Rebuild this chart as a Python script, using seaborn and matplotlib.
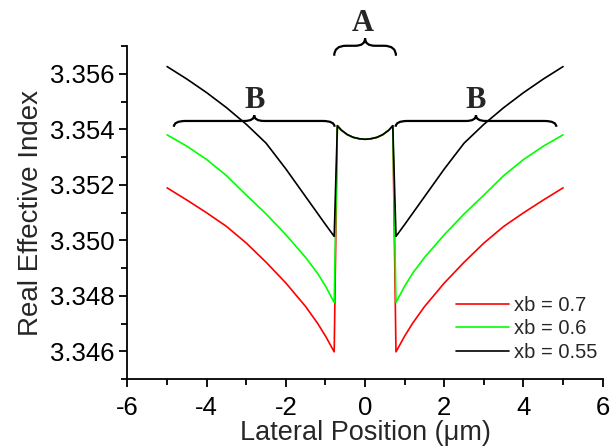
import numpy as np
import pandas as pd
import matplotlib
matplotlib.use("Agg")
import matplotlib.pyplot as plt
from matplotlib.path import Path
from matplotlib.patches import PathPatch
from matplotlib.ticker import MultipleLocator, FormatStrFormatter
import seaborn as sns

# left half of the profile (the curve is symmetric about x = 0)
x_half = [-5.0, -4.5, -4.0, -3.5, -3.0, -2.5, -2.0, -1.5, -1.2, -1.0, -0.78,
          -0.70, -0.60, -0.45, -0.30, -0.15]
x_mid = 0.0

red_half = [3.35189, 3.35145, 3.35099, 3.35050, 3.34990, 3.34921, 3.34846, 3.34761,
            3.34701, 3.34655, 3.34598]
green_half = [3.35380, 3.35339, 3.35291, 3.35233, 3.35163, 3.35095, 3.35020, 3.34938,
              3.34881, 3.34835, 3.34776]
black_half = [3.35626, 3.35581, 3.35532, 3.35478, 3.35418, 3.35350, 3.35257, 3.35157,
              3.35097, 3.35057, 3.35014]
# central ridge, shared by all three curves
core_half = [3.35413, 3.35397, 3.35381, 3.35371, 3.35366]
core_mid = 3.35364

labels = ["xb = 0.7", "xb = 0.6", "xb = 0.55"]
colors = ["#ff0000", "#00ff00", "#000000"]


def full_profile(wing):
    left = wing + core_half
    return left + [core_mid] + left[::-1]


x_full = x_half + [x_mid] + [-v for v in x_half[::-1]]
rows = []
for lab, wing in zip(labels, [red_half, green_half, black_half]):
    for xv, yv in zip(x_full, full_profile(wing)):
        rows.append({"x": xv, "n": yv, "series": lab})
df = pd.DataFrame(rows)

sns.set_theme(style="ticks")
plt.rcParams["font.family"] = ["Liberation Sans", "DejaVu Sans"]
plt.rcParams["axes.unicode_minus"] = False

fig = plt.figure(figsize=(6.1, 4.47), dpi=100)
ax = fig.add_axes([0.209, 0.152, 0.779, 0.745])

sns.lineplot(data=df, x="x", y="n", hue="series", hue_order=labels,
             palette=dict(zip(labels, colors)), sort=False, lw=1.2, ax=ax)

ax.set_xlim(-6, 6)
ax.set_ylim(3.345, 3.357)
ax.xaxis.set_major_locator(MultipleLocator(2))
ax.xaxis.set_minor_locator(MultipleLocator(1))
ax.yaxis.set_major_locator(MultipleLocator(0.002))
ax.yaxis.set_minor_locator(MultipleLocator(0.001))
ax.yaxis.set_major_formatter(FormatStrFormatter("%.3f"))
sns.despine(ax=ax)
for s in ["left", "bottom"]:
    ax.spines[s].set_linewidth(1.3)
    ax.spines[s].set_color("black")
ax.tick_params(which="major", direction="out", length=6, width=1.3, labelsize=18.5,
               colors="black")
ax.tick_params(axis="x", which="major", pad=6)
ax.tick_params(which="minor", direction="out", length=4, width=1.3, colors="black")

ax.set_xlabel("Lateral Position (\u03bcm)", fontsize=19.5, labelpad=0)
ax.set_ylabel("Real Effective Index", fontsize=20, labelpad=4)

ax.legend(loc="upper left", bbox_to_anchor=(0.692, 0.250), frameon=False,
          fontsize=14.5, handlelength=2.63, handletextpad=0.25, labelspacing=0.22,
          borderpad=0, borderaxespad=0)


def brace(x0, x1, y_tip, y_mid, y_cusp, r=0.3, c=0.25):
    xc = (x0 + x1) / 2
    verts = [(x0, y_tip), (x0, y_mid), (x0 + r, y_mid), (xc - c, y_mid),
             (xc, y_mid), (xc, y_cusp), (xc, y_mid), (xc + c, y_mid),
             (x1 - r, y_mid), (x1, y_mid), (x1, y_tip)]
    codes = [Path.MOVETO, Path.CURVE3, Path.CURVE3, Path.LINETO,
             Path.CURVE3, Path.CURVE3, Path.CURVE3, Path.CURVE3,
             Path.LINETO, Path.CURVE3, Path.CURVE3]
    ax.add_patch(PathPatch(Path(verts, codes), fill=False, lw=1.6,
                           edgecolor="black", clip_on=False))


brace(-0.78, 0.78, 3.35665, 3.35701, 3.35728)
brace(-4.83, -0.77, 3.35409, 3.35430, 3.35451)
brace(0.77, 4.83, 3.35409, 3.35430, 3.35451)

letter_kw = dict(ha="center", va="center", fontsize=22, fontweight="bold",
                 family=["Liberation Serif", "DejaVu Serif"], clip_on=False)
ax.text(-0.05, 3.35782, "A", **letter_kw)
ax.text(-2.78, 3.35504, "B", **letter_kw)
ax.text(2.8, 3.35504, "B", **letter_kw)

fig.savefig("out.png", dpi=100)
